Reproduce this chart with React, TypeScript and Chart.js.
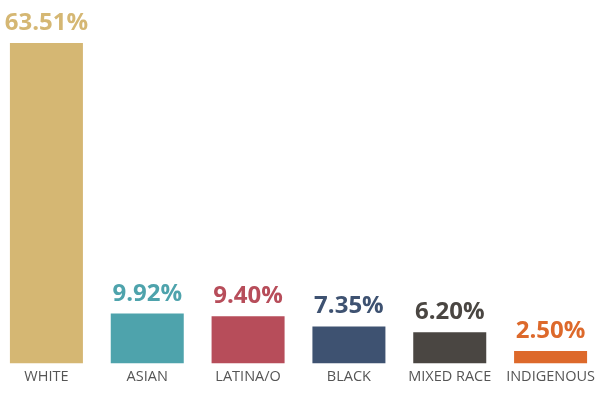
import React, { useEffect, useRef } from "react";
import { Chart, registerables } from "chart.js";

Chart.register(...registerables);

const categories = ["WHITE", "ASIAN", "LATINA/O", "BLACK", "MIXED RACE", "INDIGENOUS"];
const values = [63.51, 9.92, 9.4, 7.35, 6.2, 2.5];
const barColors = ["#D5B773", "#4EA3AC", "#B74D5A", "#3E5271", "#4A4642", "#DD692B"];

const valueLabels = {
  id: "valueLabels",
  afterDatasetsDraw(chart: any) {
    const ctx = chart.ctx;
    const meta = chart.getDatasetMeta(0);
    ctx.save();
    ctx.font = "bold 24px 'Open Sans'";
    ctx.textAlign = "center";
    ctx.textBaseline = "alphabetic";
    meta.data.forEach((bar: any, i: number) => {
      ctx.fillStyle = barColors[i];
      ctx.fillText(values[i].toFixed(2) + "%", bar.x, bar.y - 13);
    });
    ctx.restore();
  },
};

export default function App() {
  const ref = useRef<HTMLCanvasElement>(null);
  useEffect(() => {
    if (!ref.current) return;
    const chart = new Chart(ref.current, {
      type: "bar",
      data: {
        labels: categories,
        datasets: [
          {
            data: values,
            backgroundColor: barColors,
            barPercentage: 0.724,
            categoryPercentage: 1,
          },
        ],
      },
      options: {
        animation: false,
        responsive: false,
        maintainAspectRatio: false,
        layout: { padding: { top: 43, bottom: 7, left: 0, right: 0 } },
        plugins: { legend: { display: false }, tooltip: { enabled: false } },
        scales: {
          x: {
            grid: { display: false, drawTicks: false },
            border: { display: false },
            ticks: {
              color: "#555555",
              font: { family: "'Open Sans'", size: 14.5 },
              padding: 5,
              maxRotation: 0,
              autoSkip: false,
            },
          },
          y: {
            display: false,
            min: 0,
            max: 63.51,
          },
        },
      },
      plugins: [valueLabels],
    });
    return () => chart.destroy();
  }, []);
  return (
    <div style={{ position: "absolute", left: -4, top: 0, width: 605, height: 398 }}>
      <canvas ref={ref} width={605} height={398} />
    </div>
  );
}
